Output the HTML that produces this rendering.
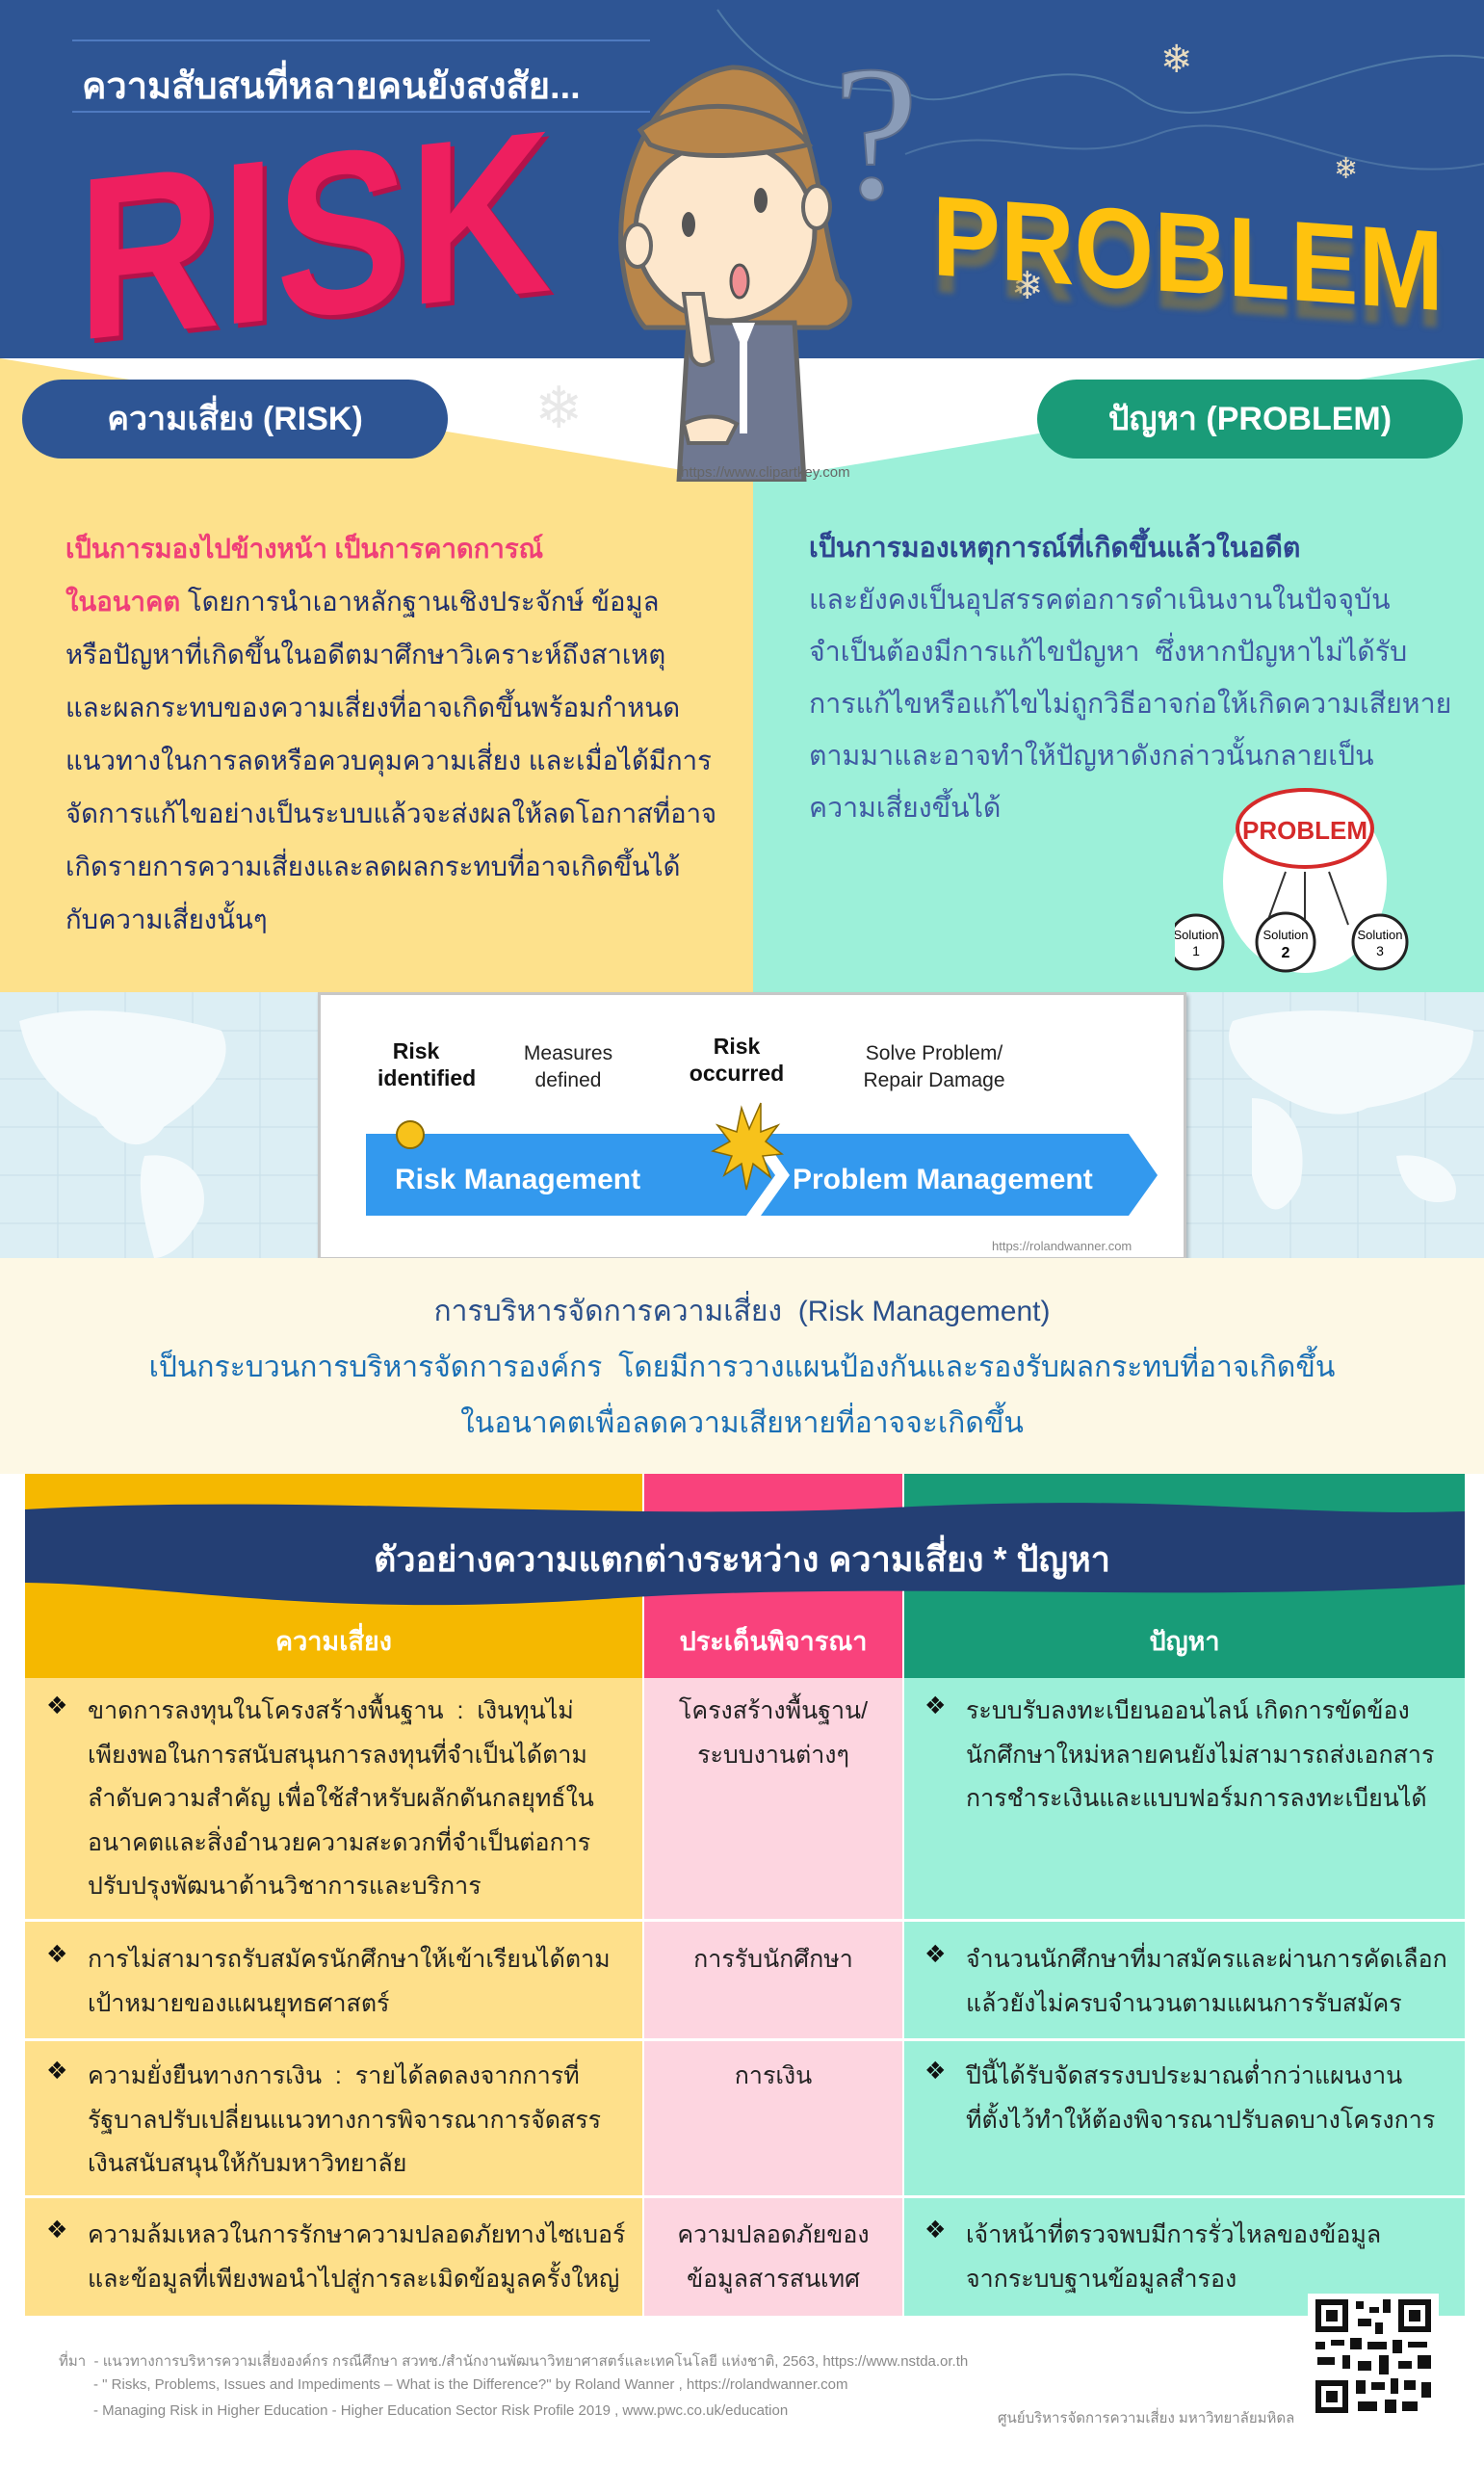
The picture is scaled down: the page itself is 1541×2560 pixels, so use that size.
<!DOCTYPE html>
<html><head><meta charset="utf-8">
<style>
*{margin:0;padding:0;box-sizing:border-box}
body{width:1541px;height:2560px;position:relative;overflow:hidden;background:#fff;font-family:"Liberation Sans","DejaVu Sans",sans-serif}
.a{position:absolute;white-space:nowrap}
.th{font-family:"Liberation Sans","DejaVu Sans",sans-serif}
.lt{font-size:27.5px;color:#1f2d6b;line-height:55px}
.rt{font-size:28.5px;color:#3f59a3;line-height:54px}
.cell{font-size:25px;color:#222;line-height:45.5px}
.bul{position:absolute;font-size:25px;color:#111}
.foot{font-size:15px;color:#8a8a8a}
</style></head><body>

<!-- header -->
<div class="a" style="left:0;top:0;width:1541px;height:372px;background:#2e5594"></div>
<svg class="a" style="left:0;top:0" width="1541" height="372">
<path d="M745 10 C820 120 900 80 950 100 S1100 40 1180 100 S1400 40 1541 60" stroke="#4f7aa8" stroke-width="2" fill="none"/>
<path d="M940 160 C1040 120 1100 180 1200 140 S1400 200 1541 170" stroke="#4a72a4" stroke-width="2" fill="none"/>
<line x1="75" y1="42" x2="675" y2="42" stroke="#4f7ac0" stroke-width="2"/>
<line x1="75" y1="116" x2="675" y2="116" stroke="#4f7ac0" stroke-width="2"/>
<text x="1205" y="75" font-size="40" fill="#e8dcc0" font-family="DejaVu Sans">❄</text>
<text x="1385" y="185" font-size="30" fill="#e8dcc0" font-family="DejaVu Sans">❄</text>
<text x="1050" y="310" font-size="40" fill="#e8dcc0" font-family="DejaVu Sans">❄</text>
</svg>
<div class="a th" style="left:85px;top:58px;font-size:38px;font-weight:bold;color:#fff">ความสับสนที่หลายคนยังสงสัย...</div>
<div class="a" style="left:80px;top:145px;font-size:240px;line-height:250px;font-weight:bold;color:#ee1f5f;transform:skewY(-6deg) scaleX(0.86);transform-origin:left top;text-shadow:5px 5px 0 #b3124a">RISK</div>
<div class="a" style="left:968px;top:180px;font-size:118px;line-height:130px;font-weight:bold;color:#ffc20e;transform:skewY(4deg) scaleX(0.9);transform-origin:left top;text-shadow:0 18px 6px rgba(160,130,40,.5)">PROBLEM</div>

<!-- lower coloured area -->
<svg class="a" style="left:0;top:372px" width="1541" height="660">
<polygon points="0,0 782,128 782,660 0,660" fill="#fde18c"/>
<polygon points="1541,0 782,128 782,660 1541,660" fill="#9cf0d9"/>
<text x="555" y="72" font-size="60" fill="#e8e8e8" font-family="DejaVu Sans">❄</text>
</svg>

<!-- girl -->
<svg class="a" style="left:600px;top:40px" width="420" height="460">
<path d="M160 30 C90 40 40 120 45 220 C50 270 60 290 70 300 L260 300 C285 290 290 270 270 250 C255 200 250 120 225 70 C210 45 190 30 160 30Z" fill="#b9864a" stroke="#666" stroke-width="5"/>
<path d="M115 295 L105 460 L235 460 L225 295 Z" fill="#6f7891" stroke="#666" stroke-width="5"/>
<path d="M160 295 L172 325 L184 295Z" fill="#fff"/>
<rect x="168" y="310" width="8" height="100" fill="#fff"/>
<circle cx="153" cy="200" r="93" fill="#fde7cc" stroke="#666" stroke-width="5"/>
<ellipse cx="62" cy="215" rx="14" ry="22" fill="#fde7cc" stroke="#666" stroke-width="4"/>
<ellipse cx="248" cy="175" rx="14" ry="22" fill="#fde7cc" stroke="#666" stroke-width="4"/>
<path d="M65 95 C110 60 200 60 240 110 C200 120 120 130 75 110Z" fill="#b9864a" stroke="#666" stroke-width="5"/>
<ellipse cx="115" cy="193" rx="7" ry="13" fill="#555"/>
<ellipse cx="190" cy="168" rx="7" ry="13" fill="#555"/>
<ellipse cx="168" cy="252" rx="9" ry="17" fill="#f08f92" stroke="#555" stroke-width="3"/>
<path d="M110 265 L118 330 Q125 345 140 335 L130 265Z" fill="#fde7cc" stroke="#666" stroke-width="4"/>
<path d="M110 400 Q140 385 165 400 L155 420 L115 420Z" fill="#fde7cc" stroke="#666" stroke-width="4"/>
<text x="107" y="455" font-size="15" fill="#666">https://www.clipartkey.com</text>
<text x="265" y="165" font-size="200" fill="#8a9cb8" stroke="#5c6d8c" stroke-width="2" font-family="Liberation Serif">?</text>
</svg>

<!-- pills -->
<div class="a th" style="left:23px;top:394px;width:442px;height:82px;border-radius:41px;background:#2e5594;color:#fff;font-size:34px;font-weight:bold;text-align:center;line-height:82px">ความเสี่ยง (RISK)</div>
<div class="a th" style="left:1077px;top:394px;width:442px;height:82px;border-radius:41px;background:#1a9b78;color:#fff;font-size:34px;font-weight:bold;text-align:center;line-height:82px">ปัญหา (PROBLEM)</div>

<!-- left text -->
<div class="a th lt" style="left:68px;top:542px">
<span style="color:#ef3f78;font-weight:bold">เป็นการมองไปข้างหน้า เป็นการคาดการณ์</span><br>
<span style="color:#ef3f78;font-weight:bold">ในอนาคต</span> โดยการนำเอาหลักฐานเชิงประจักษ์ ข้อมูล<br>
หรือปัญหาที่เกิดขึ้นในอดีตมาศึกษาวิเคราะห์ถึงสาเหตุ<br>
และผลกระทบของความเสี่ยงที่อาจเกิดขึ้นพร้อมกำหนด<br>
แนวทางในการลดหรือควบคุมความเสี่ยง และเมื่อได้มีการ<br>
จัดการแก้ไขอย่างเป็นระบบแล้วจะส่งผลให้ลดโอกาสที่อาจ<br>
เกิดรายการความเสี่ยงและลดผลกระทบที่อาจเกิดขึ้นได้<br>
กับความเสี่ยงนั้นๆ</div>

<!-- right text -->
<div class="a th rt" style="left:840px;top:542px">
<span style="color:#2e4590;font-weight:bold">เป็นการมองเหตุการณ์ที่เกิดขึ้นแล้วในอดีต</span><br>
และยังคงเป็นอุปสรรคต่อการดำเนินงานในปัจจุบัน<br>
จำเป็นต้องมีการแก้ไขปัญหา &nbsp;ซึ่งหากปัญหาไม่ได้รับ<br>
การแก้ไขหรือแก้ไขไม่ถูกวิธีอาจก่อให้เกิดความเสียหาย<br>
ตามมาและอาจทำให้ปัญหาดังกล่าวนั้นกลายเป็น<br>
ความเสี่ยงขึ้นได้</div>

<!-- problem graphic -->
<svg class="a" style="left:1220px;top:810px" width="270" height="200">
<ellipse cx="135" cy="105" rx="85" ry="95" fill="#fff"/>
<ellipse cx="135" cy="50" rx="70" ry="40" fill="#fff" stroke="#d52a2a" stroke-width="4"/>
<text x="135" y="61" font-size="26" font-weight="bold" fill="#d52a2a" text-anchor="middle">PROBLEM</text>
<line x1="115" y1="95" x2="95" y2="150" stroke="#333" stroke-width="2"/>
<line x1="135" y1="95" x2="135" y2="150" stroke="#333" stroke-width="2"/>
<line x1="160" y1="95" x2="180" y2="150" stroke="#333" stroke-width="2"/>
<circle cx="22" cy="168" r="28" fill="#fff" stroke="#222" stroke-width="3"/>
<circle cx="115" cy="168" r="30" fill="#fff" stroke="#222" stroke-width="3"/>
<circle cx="213" cy="168" r="28" fill="#fff" stroke="#222" stroke-width="3"/>
<text x="22" y="165" font-size="13" text-anchor="middle">Solution</text><text x="22" y="182" font-size="14" text-anchor="middle">1</text>
<text x="115" y="165" font-size="13" text-anchor="middle">Solution</text><text x="115" y="184" font-size="16" text-anchor="middle" font-weight="bold">2</text>
<text x="213" y="165" font-size="13" text-anchor="middle">Solution</text><text x="213" y="182" font-size="14" text-anchor="middle">3</text>
</svg>

<!-- map band -->
<div class="a" style="left:0;top:1030px;width:1541px;height:276px;background:#dceef4"></div>
<svg class="a" style="left:0;top:1030px" width="1541" height="276">
<g stroke="#c8dfe8" stroke-width="1">
<path d="M0 40H1541M0 90H1541M0 140H1541M0 190H1541M0 240H1541"/>
<path d="M60 0V276M130 0V276M200 0V276M270 0V276M1270 0V276M1340 0V276M1410 0V276M1480 0V276"/>
</g>
<g fill="#f4fafc">
<path d="M20 30 C80 10 160 20 230 40 C250 80 200 120 170 140 C150 170 120 160 100 130 C60 110 30 80 20 30Z"/>
<path d="M150 170 C190 165 220 190 210 230 C195 260 175 276 160 276 C150 240 140 200 150 170Z"/>
<path d="M1280 30 C1340 10 1450 20 1530 40 C1530 90 1480 110 1420 120 C1380 140 1330 110 1300 90 C1280 70 1270 50 1280 30Z"/>
<path d="M1300 110 C1340 110 1360 150 1350 200 C1330 240 1310 230 1300 190Z"/>
<path d="M1450 170 C1490 165 1520 190 1510 215 C1480 225 1455 210 1450 170Z"/>
</g>
</svg>
<div class="a" style="left:330px;top:1030px;width:902px;height:278px;background:#fff;border:3px solid #c7c7c7;box-shadow:2px 3px 4px rgba(0,0,0,.25)"></div>
<div class="a" style="left:392px;top:1077px;width:80px;text-align:center;font-size:23px;font-weight:bold;line-height:28px;color:#111">Risk<br>identified</div>
<div class="a" style="left:540px;top:1080px;width:100px;text-align:center;font-size:21px;line-height:28px;color:#222">Measures<br>defined</div>
<div class="a" style="left:700px;top:1072px;width:130px;text-align:center;font-size:23px;font-weight:bold;line-height:28px;color:#111">Risk<br>occurred</div>
<div class="a" style="left:860px;top:1080px;width:220px;text-align:center;font-size:21px;line-height:28px;color:#222">Solve Problem/<br>Repair Damage</div>
<svg class="a" style="left:380px;top:1140px" width="830" height="140">
<polygon points="0,37 395,37 425,80 395,122 0,122" fill="#3399ee"/>
<polygon points="410,37 792,37 822,80 792,122 410,122 440,80" fill="#3399ee"/>
<circle cx="46" cy="38" r="14" fill="#f7c21b" stroke="#8a6a00" stroke-width="2"/>
<polygon points="390,10 398,32 410,5 410,35 428,28 415,45 432,58 412,60 420,82 402,68 395,95 390,68 372,80 380,60 360,55 378,45 365,28 385,35" fill="#f7c21b" stroke="#8a6a00" stroke-width="1.5"/>
<text x="30" y="94" font-size="30" font-weight="bold" fill="#fff">Risk Management</text>
<text x="443" y="94" font-size="30" font-weight="bold" fill="#fff">Problem Management</text>
</svg>
<div class="a" style="left:1030px;top:1286px;font-size:13px;color:#888">https://rolandwanner.com</div>

<!-- cream -->
<div class="a" style="left:0;top:1306px;width:1541px;height:224px;background:#fdf8e5"></div>
<div class="a th" style="left:0;top:1342px;width:1541px;text-align:center;font-size:30px;color:#2a4f8a;line-height:40px">การบริหารจัดการความเสี่ยง &nbsp;(Risk Management)</div>
<div class="a th" style="left:0;top:1400px;width:1541px;text-align:center;font-size:30px;color:#1a6fb5;line-height:40px">เป็นกระบวนการบริหารจัดการองค์กร &nbsp;โดยมีการวางแผนป้องกันและรองรับผลกระทบที่อาจเกิดขึ้น</div>
<div class="a th" style="left:0;top:1458px;width:1541px;text-align:center;font-size:30px;color:#1a6fb5;line-height:40px">ในอนาคตเพื่อลดความเสียหายที่อาจจะเกิดขึ้น</div>

<!-- table header -->
<div class="a" style="left:26px;top:1530px;width:641px;height:212px;background:#f5b800"></div>
<div class="a" style="left:669px;top:1530px;width:268px;height:212px;background:#f9427c"></div>
<div class="a" style="left:939px;top:1530px;width:582px;height:212px;background:#189c78"></div>
<svg class="a" style="left:26px;top:1555px" width="1500" height="112">
<path d="M0 12 C300 -5 600 25 900 10 S1300 20 1495 14 L1495 90 C1200 110 900 85 600 105 S150 90 0 88Z" fill="#243f74"/>
</svg>
<div class="a th" style="left:0;top:1590px;width:1541px;text-align:center;font-size:36px;font-weight:bold;color:#fff">ตัวอย่างความแตกต่างระหว่าง ความเสี่ยง * ปัญหา</div>
<div class="a th" style="left:26px;top:1682px;width:641px;text-align:center;font-size:27px;font-weight:bold;color:#fff">ความเสี่ยง</div>
<div class="a th" style="left:669px;top:1682px;width:268px;text-align:center;font-size:27px;font-weight:bold;color:#fff">ประเด็นพิจารณา</div>
<div class="a th" style="left:939px;top:1682px;width:582px;text-align:center;font-size:27px;font-weight:bold;color:#fff">ปัญหา</div>

<!-- rows backgrounds -->
<div class="a" style="left:26px;top:1742px;width:641px;height:250px;background:#fee08b"></div>
<div class="a" style="left:669px;top:1742px;width:268px;height:250px;background:#fdd5e0"></div>
<div class="a" style="left:939px;top:1742px;width:582px;height:250px;background:#9cf0d9"></div>
<div class="a" style="left:26px;top:1995px;width:641px;height:121px;background:#fee08b"></div>
<div class="a" style="left:669px;top:1995px;width:268px;height:121px;background:#fdd5e0"></div>
<div class="a" style="left:939px;top:1995px;width:582px;height:121px;background:#9cf0d9"></div>
<div class="a" style="left:26px;top:2119px;width:641px;height:160px;background:#fee08b"></div>
<div class="a" style="left:669px;top:2119px;width:268px;height:160px;background:#fdd5e0"></div>
<div class="a" style="left:939px;top:2119px;width:582px;height:160px;background:#9cf0d9"></div>
<div class="a" style="left:26px;top:2282px;width:641px;height:122px;background:#fee08b"></div>
<div class="a" style="left:669px;top:2282px;width:268px;height:122px;background:#fdd5e0"></div>
<div class="a" style="left:939px;top:2282px;width:582px;height:122px;background:#9cf0d9"></div>

<!-- row 1 -->
<div class="bul" style="left:48px;top:1756px">❖</div>
<div class="a th cell" style="left:91px;top:1754px">ขาดการลงทุนในโครงสร้างพื้นฐาน &nbsp;: &nbsp;เงินทุนไม่<br>เพียงพอในการสนับสนุนการลงทุนที่จำเป็นได้ตาม<br>ลำดับความสำคัญ เพื่อใช้สำหรับผลักดันกลยุทธ์ใน<br>อนาคตและสิ่งอำนวยความสะดวกที่จำเป็นต่อการ<br>ปรับปรุงพัฒนาด้านวิชาการและบริการ</div>
<div class="a th cell" style="left:669px;top:1754px;width:268px;text-align:center">โครงสร้างพื้นฐาน/<br>ระบบงานต่างๆ</div>
<div class="bul" style="left:960px;top:1756px">❖</div>
<div class="a th cell" style="left:1003px;top:1754px">ระบบรับลงทะเบียนออนไลน์ เกิดการขัดข้อง<br>นักศึกษาใหม่หลายคนยังไม่สามารถส่งเอกสาร<br>การชำระเงินและแบบฟอร์มการลงทะเบียนได้</div>

<!-- row 2 -->
<div class="bul" style="left:48px;top:2014px">❖</div>
<div class="a th cell" style="left:91px;top:2012px">การไม่สามารถรับสมัครนักศึกษาให้เข้าเรียนได้ตาม<br>เป้าหมายของแผนยุทธศาสตร์</div>
<div class="a th cell" style="left:669px;top:2012px;width:268px;text-align:center">การรับนักศึกษา</div>
<div class="bul" style="left:960px;top:2014px">❖</div>
<div class="a th cell" style="left:1003px;top:2012px">จำนวนนักศึกษาที่มาสมัครและผ่านการคัดเลือก<br>แล้วยังไม่ครบจำนวนตามแผนการรับสมัคร</div>

<!-- row 3 -->
<div class="bul" style="left:48px;top:2135px">❖</div>
<div class="a th cell" style="left:91px;top:2133px">ความยั่งยืนทางการเงิน &nbsp;: &nbsp;รายได้ลดลงจากการที่<br>รัฐบาลปรับเปลี่ยนแนวทางการพิจารณาการจัดสรร<br>เงินสนับสนุนให้กับมหาวิทยาลัย</div>
<div class="a th cell" style="left:669px;top:2133px;width:268px;text-align:center">การเงิน</div>
<div class="bul" style="left:960px;top:2135px">❖</div>
<div class="a th cell" style="left:1003px;top:2133px">ปีนี้ได้รับจัดสรรงบประมาณต่ำกว่าแผนงาน<br>ที่ตั้งไว้ทำให้ต้องพิจารณาปรับลดบางโครงการ</div>

<!-- row 4 -->
<div class="bul" style="left:48px;top:2300px">❖</div>
<div class="a th cell" style="left:91px;top:2298px">ความล้มเหลวในการรักษาความปลอดภัยทางไซเบอร์<br>และข้อมูลที่เพียงพอนำไปสู่การละเมิดข้อมูลครั้งใหญ่</div>
<div class="a th cell" style="left:669px;top:2298px;width:268px;text-align:center">ความปลอดภัยของ<br>ข้อมูลสารสนเทศ</div>
<div class="bul" style="left:960px;top:2300px">❖</div>
<div class="a th cell" style="left:1003px;top:2298px">เจ้าหน้าที่ตรวจพบมีการรั่วไหลของข้อมูล<br>จากระบบฐานข้อมูลสำรอง</div>

<!-- footer -->
<div class="a th foot" style="left:61px;top:2439px">ที่มา &nbsp;- แนวทางการบริหารความเสี่ยงองค์กร กรณีศึกษา สวทช./สำนักงานพัฒนาวิทยาศาสตร์และเทคโนโลยี แห่งชาติ, 2563, https://www.nstda.or.th</div>
<div class="a foot" style="left:97px;top:2467px">- " Risks, Problems, Issues and Impediments – What is the Difference?" by Roland Wanner , https://rolandwanner.com</div>
<div class="a foot" style="left:97px;top:2494px">- Managing Risk in Higher Education - Higher Education Sector Risk Profile 2019 , www.pwc.co.uk/education</div>
<div class="a th foot" style="left:1036px;top:2498px">ศูนย์บริหารจัดการความเสี่ยง มหาวิทยาลัยมหิดล</div>
<svg class="a" style="left:1358px;top:2381px" width="136" height="130">
<rect width="136" height="130" fill="#fff"/>
<g fill="#111">
<rect x="8" y="6" width="34" height="34"/><rect x="14" y="12" width="22" height="22" fill="#fff"/><rect x="19" y="17" width="12" height="12"/>
<rect x="94" y="6" width="34" height="34"/><rect x="100" y="12" width="22" height="22" fill="#fff"/><rect x="105" y="17" width="12" height="12"/>
<rect x="8" y="90" width="34" height="34"/><rect x="14" y="96" width="22" height="22" fill="#fff"/><rect x="19" y="101" width="12" height="12"/>
<rect x="50" y="8" width="8" height="8"/><rect x="64" y="14" width="10" height="6"/><rect x="78" y="6" width="8" height="14"/><rect x="52" y="26" width="14" height="8"/>
<rect x="70" y="30" width="8" height="12"/><rect x="8" y="50" width="10" height="8"/><rect x="24" y="48" width="14" height="6"/><rect x="44" y="46" width="12" height="12"/>
<rect x="62" y="50" width="20" height="8"/><rect x="88" y="48" width="10" height="14"/><rect x="104" y="50" width="20" height="6"/><rect x="10" y="66" width="18" height="8"/>
<rect x="36" y="64" width="8" height="14"/><rect x="52" y="70" width="14" height="10"/><rect x="74" y="64" width="10" height="20"/><rect x="94" y="70" width="14" height="8"/>
<rect x="114" y="64" width="14" height="14"/><rect x="50" y="90" width="10" height="14"/><rect x="66" y="92" width="14" height="8"/><rect x="86" y="88" width="8" height="16"/>
<rect x="100" y="90" width="12" height="10"/><rect x="118" y="92" width="10" height="16"/><rect x="52" y="112" width="20" height="10"/><rect x="80" y="110" width="12" height="14"/><rect x="98" y="112" width="16" height="10"/>
</g>
</svg>

</body></html>
